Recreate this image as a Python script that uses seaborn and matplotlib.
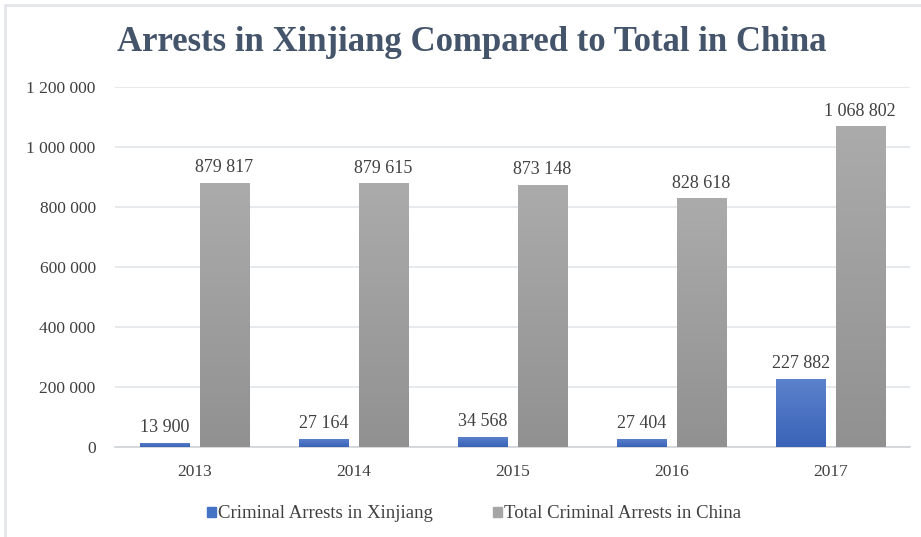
import matplotlib
matplotlib.use("Agg")
import matplotlib.pyplot as plt
from matplotlib.colors import LinearSegmentedColormap
from matplotlib.patches import Rectangle
import numpy as np
import pandas as pd
import seaborn as sns

years = ["2013", "2014", "2015", "2016", "2017"]
xinjiang = [13900, 27164, 34568, 27404, 227882]
china = [879817, 879615, 873148, 828618, 1068802]
series_names = ["Criminal Arrests in Xinjiang", "Total Criminal Arrests in China"]
yticks = [0, 200000, 400000, 600000, 800000, 1000000, 1200000]

df = pd.DataFrame({
    "year": years * 2,
    "value": xinjiang + china,
    "series": [series_names[0]] * len(years) + [series_names[1]] * len(years),
})

sns.set_style("white")
plt.rcParams["font.family"] = ["Liberation Serif", "DejaVu Serif"]

def fmt(v):
    return f"{int(v):,}".replace(",", " ")

fig = plt.figure(figsize=(9.21, 5.37), dpi=100)
ax = fig.add_axes([0.125, 0.1676, 0.863, 0.6704])

colores = {series_names[0]: "#4472C4", series_names[1]: "#A5A5A5"}
sns.barplot(data=df, x="year", y="value", hue="series", palette=colores,
            width=0.75, gap=0.17, ax=ax, legend=False, zorder=3)

# degradado suave en cada barra
grad = {
    "#4472C4": LinearSegmentedColormap.from_list("b", ["#3A63B8", "#5C82CC"]),
    "#A5A5A5": LinearSegmentedColormap.from_list("g", ["#919191", "#ABABAB"]),
}
patches = list(ax.patches)
for i, p in enumerate(patches):
    col = "#4472C4" if i < len(years) else "#A5A5A5"
    x0, y0 = p.get_x(), p.get_y()
    w, h = p.get_width(), p.get_height()
    img = ax.imshow(np.linspace(0, 1, 100).reshape(-1, 1), cmap=grad[col],
                    extent=[x0, x0 + w, y0, y0 + h], origin="lower",
                    aspect="auto", zorder=3)
    img.set_clip_path(p)
    p.set_facecolor("none")
    p.set_edgecolor("none")
    ax.text(x0 + w / 2, y0 + h + 22000, fmt(h), ha="center", va="bottom",
            fontsize=13, color="#404040", zorder=4)

ax.set_xlim(-0.5, 4.5)
ax.set_ylim(0, 1200000)
ax.set_yticks(yticks)
ax.set_yticklabels([fmt(v) for v in yticks])
ax.yaxis.grid(True, color="#E3E6EA", linewidth=1.2, zorder=0)
ax.set_axisbelow(True)
ax.tick_params(axis="both", length=0, labelsize=12.5, labelcolor="#404040")
ax.tick_params(axis="x", pad=12)
ax.tick_params(axis="y", pad=14)
ax.set_xlabel("")
ax.set_ylabel("")
for s in ["top", "right", "left"]:
    ax.spines[s].set_visible(False)
ax.spines["bottom"].set_color("#D0D3D7")
ax.spines["bottom"].set_linewidth(1.2)

fig.text(0.512, 0.92, "Arrests in Xinjiang Compared to Total in China",
         ha="center", va="center", fontsize=25, fontweight="bold", color="#44546A")

handles = [Rectangle((0, 0), 1, 1, color=colores[n]) for n in series_names]
fig.legend(handles, series_names, loc="center", bbox_to_anchor=(0.515, 0.043),
           ncol=2, frameon=False, fontsize=13.5, handlelength=0.45, handleheight=0.45,
           handletextpad=0.15, columnspacing=3.2, labelcolor="#404040")

# marco gris claro del grafico
fig.patches.append(Rectangle((5 / 921, -0.1), 1.2, 1 - 5 / 537 + 0.1,
                             transform=fig.transFigure, fill=False,
                             edgecolor="#E3E6EA", linewidth=2))

fig.savefig("out.png", dpi=100)
